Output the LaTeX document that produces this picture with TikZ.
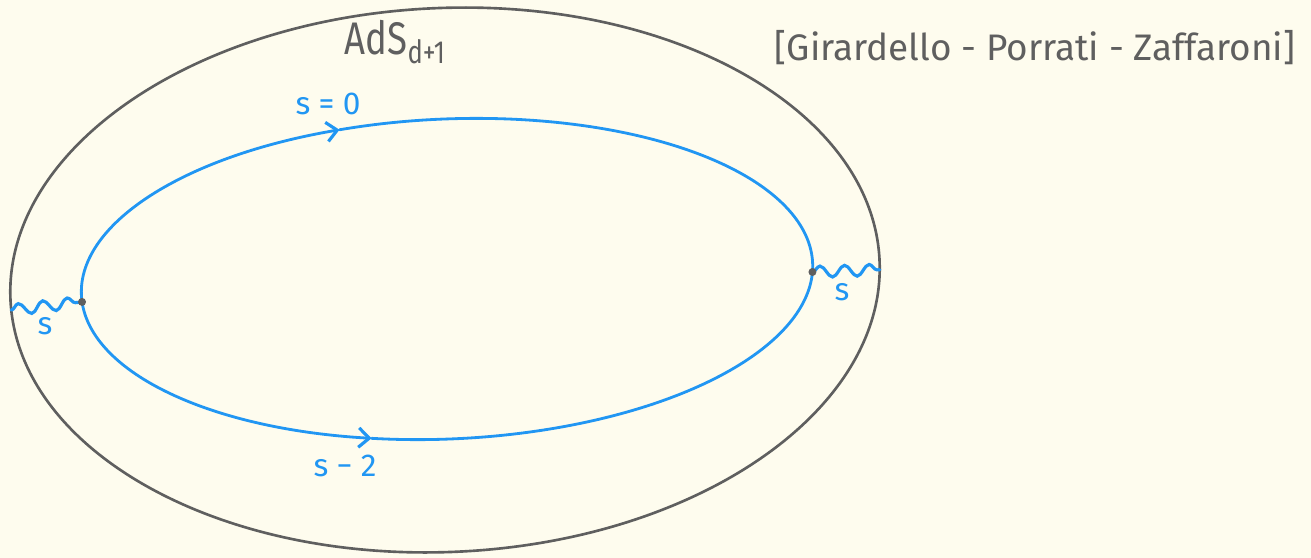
\documentclass[tikz,border=0pt]{standalone}
\usepackage{fontspec}
\setmainfont{Fira Sans}
\usetikzlibrary{decorations.pathmorphing,arrows.meta}
\definecolor{bg}{RGB}{254,252,238}
\definecolor{ink}{RGB}{95,95,95}
\definecolor{sblue}{RGB}{33,150,243}
\begin{document}
\begin{tikzpicture}[x=0.2mm,y=0.2mm,
  outerline/.style={draw=ink,line width=1.5pt},
  innerline/.style={draw=sblue,line width=1.6pt,line cap=round},
  tipped/.style={-{Straight Barb[length=6pt,width=11pt,line width=1.8pt]}},
  squig/.style={draw=sblue,line width=1.8pt,line cap=round,decorate,decoration={snake,amplitude=3.2pt,segment length=14pt}},
  lbl/.style={text=sblue,font=\fontsize{18}{20}\selectfont},
  gtext/.style={text=ink}]
\useasboundingbox (0,0) rectangle (1311,-558);
\fill[bg] (0,0) rectangle (1311,-558);
% outer ellipse
\begin{scope}[shift={(445,-280)},rotate=2.6]
  \draw[outerline] (0,0) ellipse [x radius=435,y radius=272];
  \coordinate (OL) at (182.2:435 and 272);
  \coordinate (OR) at (-2:435 and 272);
\end{scope}
% inner ellipse
\begin{scope}[shift={(447,-279)},rotate=2.5]
  \coordinate (L) at (182.5:366 and 160);
  \coordinate (R) at (-3.2:366 and 160);
  \coordinate (T) at (106:366 and 160);
  \coordinate (B) at (257:366 and 160);
  \draw[innerline,tipped] (L) arc[start angle=182.5,end angle=106,x radius=366,y radius=160];
  \draw[innerline] (T) arc[start angle=106,end angle=-3.2,x radius=366,y radius=160];
  \draw[innerline,tipped] (L) arc[start angle=182.5,end angle=257,x radius=366,y radius=160];
  \draw[innerline] (B) arc[start angle=257,end angle=356.8,x radius=366,y radius=160];
\end{scope}
% wavy lines
\draw[squig] (OL) -- (L);
\draw[squig] (R) -- (OR);
\fill[ink] (L) circle (4);
\fill[ink] (R) circle (4);
% labels
\node[lbl] (sl) at (45,-326) {s};
\node[lbl] (sr) at (842,-292) {s};
\node[lbl] (s0) at (328,-104) {s = 0};
\node[lbl] (s2) at (345,-466) {s − 2};
\node[gtext,anchor=base west,font=\fontsize{26}{30}\selectfont,xscale=0.8] (ads) at (340,-55) {AdS\textsubscript{d+1}};
\node[gtext,font=\fontsize{21}{24}\selectfont] (ref) at (1035,-48) {[Girardello - Porrati - Zaffaroni]};
\end{tikzpicture}
\end{document}
